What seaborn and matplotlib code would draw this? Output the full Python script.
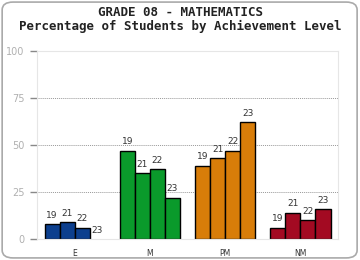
import matplotlib
matplotlib.use('Agg')
import matplotlib.pyplot as plt
from matplotlib.patches import FancyBboxPatch
import pandas as pd
import seaborn as sns

levels = ['E', 'M', 'PM', 'NM']
years = ['19', '21', '22', '23']
e_vals = [8, 9, 6, 0]
m_vals = [47, 35, 37, 22]
pm_vals = [39, 43, 47, 62]
nm_vals = [6, 14, 10, 16]
level_colors = ['#0c3f8e', '#0a9a2b', '#d87d09', '#a30a22']

rows = []
for lvl, vals in zip(levels, [e_vals, m_vals, pm_vals, nm_vals]):
    for yr, v in zip(years, vals):
        rows.append({'level': lvl, 'year': yr, 'pct': v})
df = pd.DataFrame(rows)

sns.set_style('white')
fig = plt.figure(figsize=(3.6, 2.6), dpi=100)
ax = fig.add_axes([0.103, 0.081, 0.836, 0.723])

sns.barplot(data=df, x='level', y='pct', hue='year', order=levels,
            hue_order=years, width=0.8, edgecolor='black', linewidth=1.0,
            legend=False, ax=ax)

# colour each bar by its achievement level
for i, cont in enumerate(ax.containers):
    for j, bar in enumerate(cont):
        bar.set_facecolor(level_colors[j])
        if bar.get_height() == 0:
            bar.set_linewidth(0)
    ax.bar_label(cont, labels=[years[i]] * len(cont), padding=3,
                 fontsize=6.5, color='#333333', family='DejaVu Sans')

ax.set_ylim(0, 100)
ax.set_xlim(-0.5, 3.5)
ax.set_yticks([0, 25, 50, 75, 100])
ax.set_yticklabels(['0', '25', '50', '75', '100'], fontsize=7, color='#b0b0b0')
ax.tick_params(axis='y', which='major', left=True, length=5, width=1.0,
               color='#888888', pad=4)
ax.tick_params(axis='x', bottom=False, labelsize=5.5, labelcolor='#333333', pad=4)
ax.set_xlabel('')
ax.set_ylabel('')
for y in [25, 50, 75]:
    ax.axhline(y, color='#999999', linestyle=(0, (1, 1)), linewidth=0.7, zorder=0)
for side in ['left', 'bottom', 'right', 'top']:
    ax.spines[side].set_color('#e6e6e6')
    ax.spines[side].set_linewidth(0.8)

fig.text(0.5, 0.95, 'GRADE 08 - MATHEMATICS', ha='center', va='center',
         fontsize=9, fontweight='bold', family='DejaVu Sans Mono', color='#222222')
fig.text(0.5, 0.898, 'Percentage of Students by Achievement Level', ha='center',
         va='center', fontsize=9, fontweight='bold', family='DejaVu Sans Mono',
         color='#222222')

border = FancyBboxPatch((0.006, 0.008), 0.986, 0.984, boxstyle='round,pad=0,rounding_size=0.03',
                        transform=fig.transFigure, facecolor='none',
                        edgecolor='#aaaaaa', linewidth=1.2)
fig.patches.append(border)

fig.savefig('out.png', dpi=100)
